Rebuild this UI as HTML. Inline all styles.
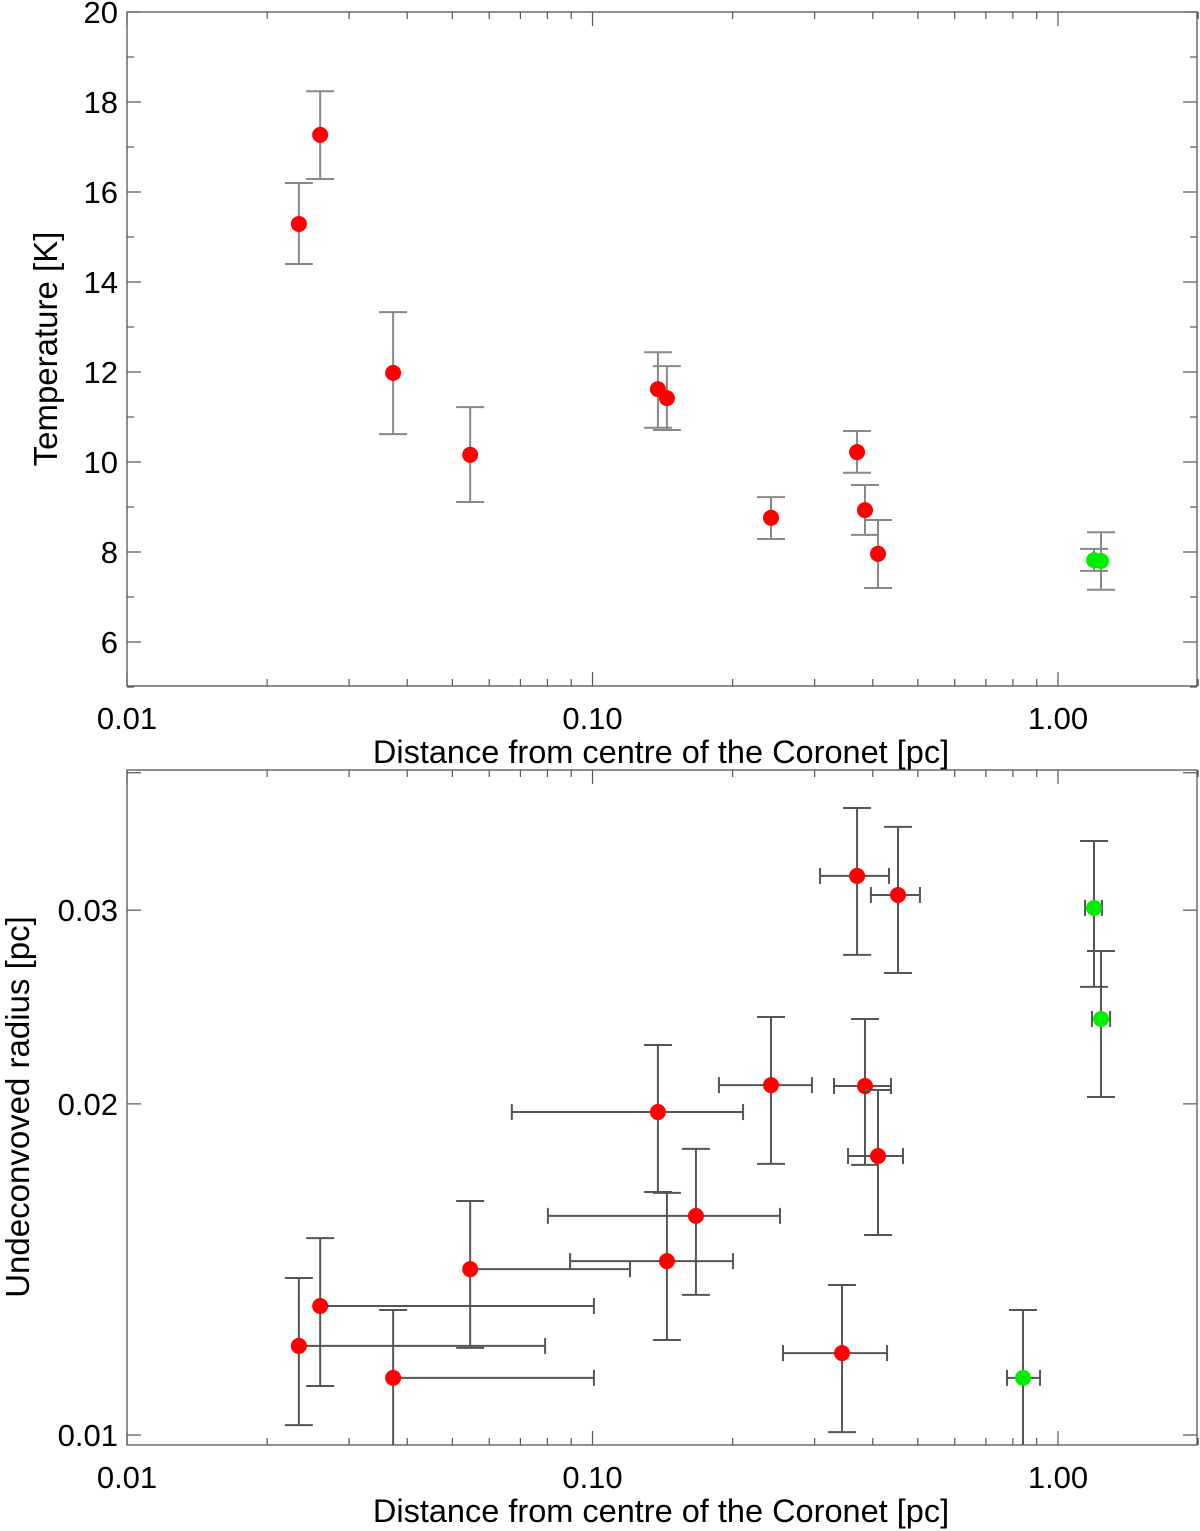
<!DOCTYPE html>
<html><head><meta charset="utf-8"><style>
html,body{margin:0;padding:0;background:#fff}
svg{display:block;font-family:"Liberation Sans",Arial,sans-serif}
</style></head><body>
<svg id="chart" width="1200" height="1531" viewBox="0 0 1200 1531" xmlns="http://www.w3.org/2000/svg"></svg>
<script>
// Top panel data
const tX   = [0.0234,0.0260,0.0373,0.0546,0.1382,0.1445,0.2418,0.3701,0.3849,0.4105,1.195,1.237];
const tY   = [15.29,17.27,11.98,10.16,11.62,11.42,8.76,10.22,8.93,7.96,7.82,7.80];
const tYlo = [14.4,16.29,10.62,9.11,10.76,10.71,8.29,9.76,8.38,7.2,7.58,7.16];
const tYhi = [16.2,18.24,13.33,11.22,12.44,12.13,9.22,10.69,9.49,8.71,8.07,8.44];
const tGreen=[0,0,0,0,0,0,0,0,0,0,1,1];
const tYTicks=[6,8,10,12,14,16,18,20];
const xTicks=[0.01,0.1,1];
const xTickLabels=["0.01","0.10","1.00"];
// Bottom panel data
const bX   = [0.0234,0.0260,0.0373,0.0546,0.1382,0.1445,0.1668,0.2418,0.3701,0.4532,0.3849,0.4105,0.3436,1.195,1.237,0.841];
const bXlo = [0.0234,0.0260,0.0373,0.0546,0.0671,0.0895,0.0802,0.1869,0.3082,0.3963,0.3302,0.3540,0.2566,1.143,1.183,0.777];
const bXhi = [0.0791,0.1007,0.1007,0.1204,0.2106,0.2004,0.2528,0.2961,0.4335,0.5052,0.4377,0.4645,0.4293,1.243,1.294,0.915];
const bY   = [0.01205,0.01310,0.01127,0.01415,0.01966,0.01439,0.01582,0.02080,0.03223,0.03097,0.02076,0.01793,0.01187,0.03014,0.02389,0.01127];
const bYlo = [0.01021,0.01108,0.00979,0.01200,0.01663,0.01220,0.01341,0.01764,0.02732,0.02630,0.01760,0.01520,0.01006,0.02555,0.02029,0.00979];
const bYhi = [0.01389,0.01510,0.01299,0.01632,0.02262,0.01660,0.01820,0.02399,0.03715,0.03571,0.02389,0.02059,0.01369,0.03467,0.02754,0.01299];
const bGreen=[0,0,0,0,0,0,0,0,0,0,0,0,0,1,1,1];
const bYTicks=[0.01,0.02,0.03];
const bYTickLabels=["0.01","0.02","0.03"];

const NS="http://www.w3.org/2000/svg";
const svg=document.getElementById('chart');
function mk(tag,attrs,parent){const e=document.createElementNS(NS,tag);for(const k in attrs)e.setAttribute(k,attrs[k]);(parent||svg).appendChild(e);return e;}
const L=127,R=1197;
const sx=v=>L+(Math.log10(v)+2)*465.5;
const tyS=v=>12+(20-v)*45;
const byS=v=>1435-(Math.log10(v)+2)*1100;
function clampY(y,t,b){return Math.max(t,Math.min(b,y));}

function frame(top,bot,name){
  const g=mk('g',{});
  
  
  mk('rect',{x:L,y:top,width:R-L,height:bot-top,fill:'none',stroke:'#555','stroke-width':1.3},g);
  for(let d=-2;d<=0;d++){for(let m=1;m<=9;m++){const v=m*Math.pow(10,d);if(v>2.0)continue;const x=sx(v);const len=m===1?14:7;
    mk('line',{x1:x,y1:bot,x2:x,y2:bot-len,stroke:'#555','stroke-width':1.2},g);
    mk('line',{x1:x,y1:top,x2:x,y2:top+len,stroke:'#555','stroke-width':1.2},g);}}
  const xt=mk('g',{});
  
  
  xTicks.forEach((v,i)=>{const t=mk('text',{x:sx(v),y:bot+43,'text-anchor':'middle','font-size':31,fill:'#000'},xt);t.textContent=xTickLabels[i];});
  const tt=mk('text',{x:661,y:bot+77,'text-anchor':'middle','font-size':32.5,fill:'#000'});
  
  
  tt.textContent='Distance from centre of the Coronet [pc]';
}
function points(X,Y,Ylo,Yhi,G,ys,top,bot,name,Xlo,Xhi){
  const g=mk('g',{});
  
  
  const col=Xlo?'#555':'#888';
  X.forEach((v,i)=>{
    const x=sx(v),y=ys(Y[i]);const y1=clampY(ys(Ylo[i]),top,bot),y2=clampY(ys(Yhi[i]),top,bot);
    mk('line',{x1:x,y1:y1,x2:x,y2:y2,stroke:col,'stroke-width':2},g);
    if(ys(Ylo[i])<bot) mk('line',{x1:x-14,y1:y1,x2:x+14,y2:y1,stroke:col,'stroke-width':2},g);
    mk('line',{x1:x-14,y1:y2,x2:x+14,y2:y2,stroke:col,'stroke-width':2},g);
    if(Xlo){const xa=sx(Xlo[i]),xb=sx(Xhi[i]);
      mk('line',{x1:xa,y1:y,x2:xb,y2:y,stroke:col,'stroke-width':2},g);
      if(Xlo[i]<v) mk('line',{x1:xa,y1:y-8,x2:xa,y2:y+8,stroke:col,'stroke-width':2},g);
      mk('line',{x1:xb,y1:y-8,x2:xb,y2:y+8,stroke:col,'stroke-width':2},g);}
    const c=mk('circle',{cx:x,cy:y,r:8,fill:G[i]?'#00ee00':'#ff0000'},g);
    
    
  });
}
frame(12,686,'top-panel');
const tyt=mk('g',{});


for(let v=5;v<=20;v++){const y=tyS(v);const len=v%2===0?14:7;
  mk('line',{x1:L,y1:y,x2:L+len,y2:y,stroke:'#555','stroke-width':1.2},tyt);
  mk('line',{x1:R,y1:y,x2:R-len,y2:y,stroke:'#555','stroke-width':1.2},tyt);}
tYTicks.forEach(v=>{const t=mk('text',{x:118,y:tyS(v)+11,'text-anchor':'end','font-size':31,fill:'#000'},tyt);t.textContent=String(v);});
const tyTitle=mk('text',{x:57,y:349,'text-anchor':'middle','font-size':33,fill:'#000',transform:'rotate(-90 57 349)'});


tyTitle.textContent='Temperature [K]';
points(tX,tY,tYlo,tYhi,tGreen,tyS,12,686,'temperature');
frame(770,1445,'bottom-panel');
const byt=mk('g',{});


[0.01,0.02,0.03,0.04].forEach(v=>{const y=byS(v);
  mk('line',{x1:L,y1:y,x2:L+14,y2:y,stroke:'#555','stroke-width':1.2},byt);
  mk('line',{x1:R,y1:y,x2:R-14,y2:y,stroke:'#555','stroke-width':1.2},byt);});
bYTicks.forEach((v,i)=>{const t=mk('text',{x:118,y:byS(v)+11,'text-anchor':'end','font-size':31,fill:'#000'},byt);t.textContent=bYTickLabels[i];});
const byTitle=mk('text',{x:29,y:1107,'text-anchor':'middle','font-size':33,fill:'#000',transform:'rotate(-90 29 1107)'});


byTitle.textContent='Undeconvoved radius [pc]';
points(bX,bY,bYlo,bYhi,bGreen,byS,770,1445,'radius',bXlo,bXhi);
</script>
</body></html>
